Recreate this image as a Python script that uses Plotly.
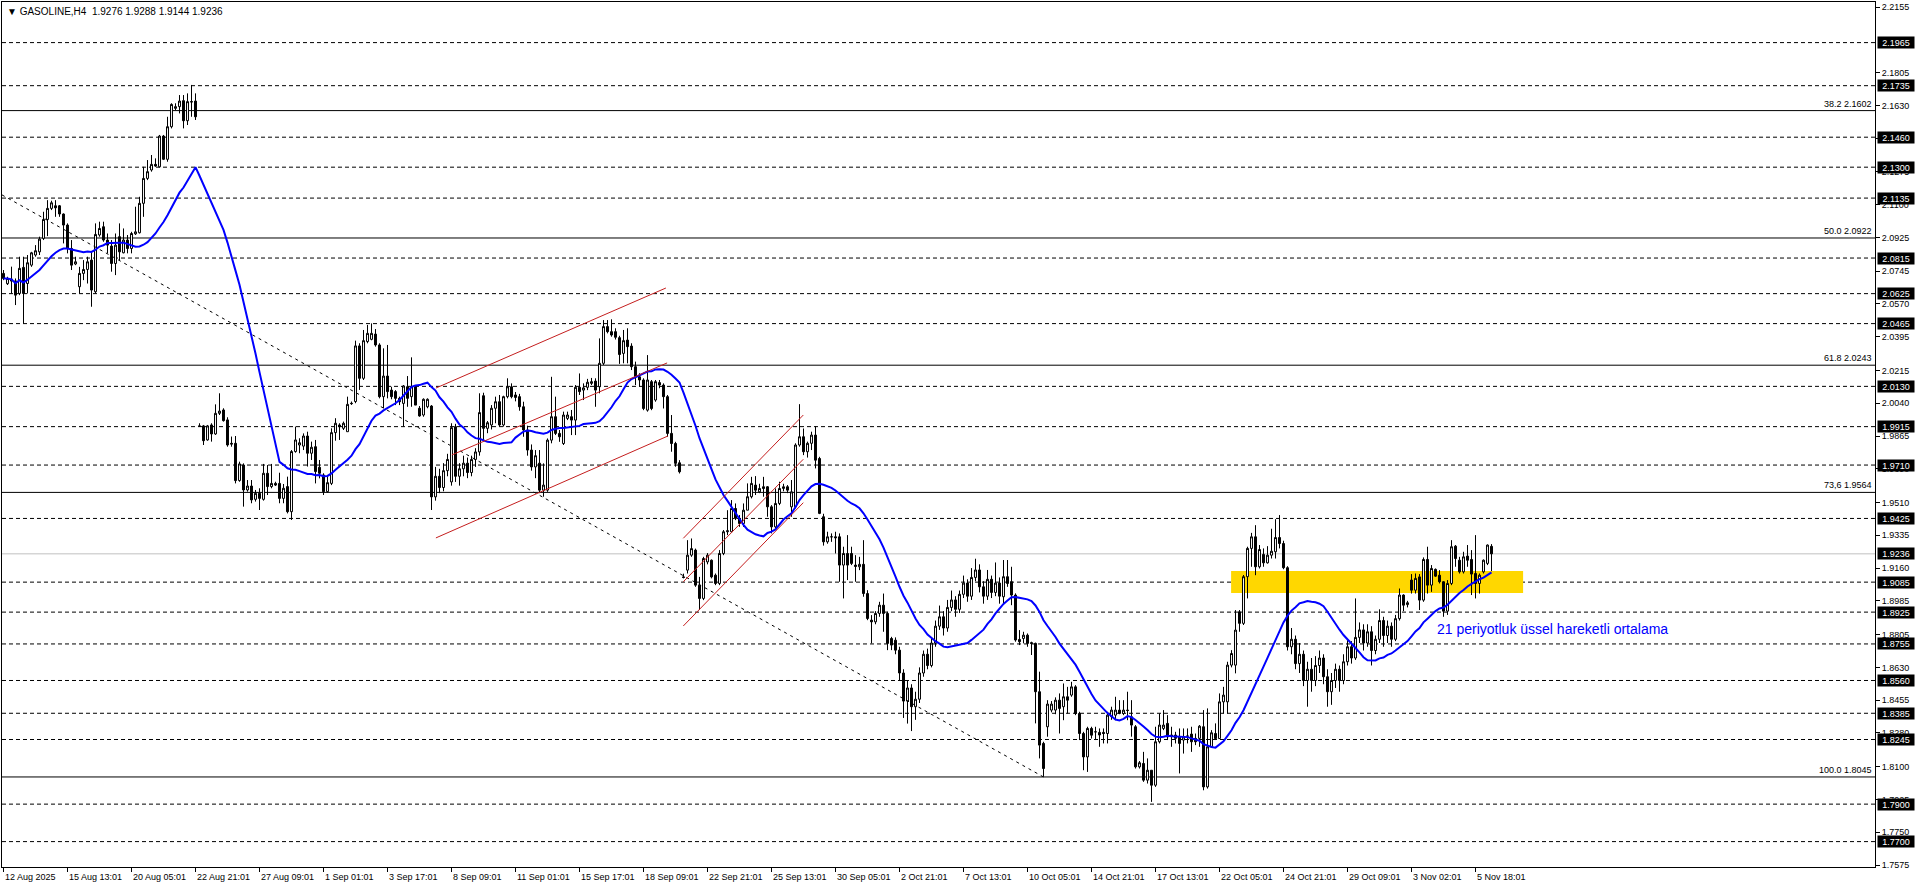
import plotly.graph_objects as go
import pandas as pd

# ---------------- data (H4 candles) ----------------
opens = [
 2.0733, 2.0678, 2.0702, 2.0693, 2.0626, 2.0765, 2.0679, 2.0777, 2.0831, 2.0848,
 2.0920, 2.1021, 2.1080, 2.1094, 2.1094, 2.1050, 2.0991, 2.0866, 2.0783, 2.0662,
 2.0733, 2.0754, 2.0804, 2.0635, 2.0938, 2.0982, 2.0911, 2.0879, 2.0786, 2.0929,
 2.0843, 2.0911, 2.0866, 2.0944, 2.0950, 2.1107, 2.1240, 2.1285, 2.1315, 2.1302,
 2.1466, 2.1342, 2.1516, 2.1614, 2.1623, 2.1655, 2.1548, 2.1650, 2.1653, 1.9919,
 1.9919, 1.9844, 1.9924, 1.9876, 1.9986, 2.0004, 1.9951, 1.9826, 1.9826, 1.9627,
 1.9710, 1.9577, 1.9598, 1.9527, 1.9559, 1.9527, 1.9666, 1.9595, 1.9612, 1.9612,
 1.9532, 1.9595, 1.9461, 1.9782, 1.9817, 1.9811, 1.9865, 1.9773, 1.9808, 1.9698,
 1.9657, 1.9568, 1.9612, 1.9883, 1.9924, 1.9906, 1.9888, 2.0040, 2.0049, 2.0346,
 2.0173, 2.0369, 2.0381, 2.0409, 2.0351, 2.0075, 2.0185, 2.0110, 2.0102, 2.0066,
 2.0039, 2.0128, 2.0075, 2.0128, 2.0013, 1.9977, 2.0021, 2.0025, 1.9540, 1.9650,
 1.9590, 1.9680, 1.9620, 1.9915, 1.9650, 1.9690, 1.9720, 1.9670, 1.9740, 1.9780,
 2.0080, 1.9906, 1.9924, 2.0013, 2.0048, 1.9924, 2.0075, 2.0128, 2.0084, 2.0075,
 2.0021, 1.9897, 1.9790, 1.9700, 1.9720, 1.9576, 1.9576, 1.9843, 1.9968, 1.9879,
 1.9825, 1.9959, 1.9968, 1.9950, 2.0125, 2.0110, 2.0125, 2.0146, 2.0158, 2.0128,
 2.0253, 2.0449, 2.0422, 2.0422, 2.0390, 2.0306, 2.0377, 2.0345, 2.0235, 2.0181,
 2.0164, 2.0003, 2.0155, 2.0057, 2.0150, 2.0137, 2.0075, 1.9879, 1.9825, 1.9722,
 1.9113, 1.9149, 1.9229, 1.9256, 1.9069, 1.8998, 1.9193, 1.9202, 1.9122, 1.9078,
 1.9238, 1.9354, 1.9354, 1.9478, 1.9425, 1.9398, 1.9469, 1.9541, 1.9603, 1.9567,
 1.9594, 1.9594, 1.9487, 1.9380, 1.9505, 1.9585, 1.9594, 1.9487, 1.9487, 1.9817,
 1.9861, 1.9781, 1.9826, 1.9870, 1.9745, 1.9434, 1.9300, 1.9327, 1.9327, 1.9327,
 1.9176, 1.9238, 1.9238, 1.9176, 1.9167, 1.9180, 1.9024, 1.8882, 1.8873, 1.8918,
 1.8962, 1.8918, 1.8784, 1.8775, 1.8722, 1.8600, 1.8450, 1.8520, 1.8420, 1.8460,
 1.8600, 1.8700, 1.8640, 1.8760, 1.8850, 1.8900, 1.8840, 1.8950, 1.8990, 1.8940,
 1.9020, 1.9080, 1.9010, 1.9110, 1.9150, 1.9060, 1.9010, 1.9100, 1.9030, 1.9080,
 1.9007, 1.9114, 1.9087, 1.9016, 1.8779, 1.8784, 1.8802, 1.8762, 1.8758, 1.8500,
 1.8224, 1.8313, 1.8402, 1.8402, 1.8455, 1.8420, 1.8473, 1.8482, 1.8526, 1.8384,
 1.8277, 1.8152, 1.8304, 1.8286, 1.8283, 1.8283, 1.8277, 1.8367, 1.8375, 1.8402,
 1.8384, 1.8402, 1.8366, 1.8313, 1.8099, 1.8117, 1.8028, 1.8081, 1.8001, 1.8233,
 1.8304, 1.8331, 1.8269, 1.8269, 1.8259, 1.8242, 1.8263, 1.8274, 1.8251, 1.8251,
 1.8313, 1.7992, 1.8206, 1.8277, 1.8250, 1.8446, 1.8446, 1.8642, 1.8642, 1.8927,
 1.8865, 1.9114, 1.9265, 1.9327, 1.9167, 1.9233, 1.9188, 1.9229, 1.9247, 1.9323,
 1.9291, 1.9162, 1.8740, 1.8780, 1.8650, 1.8700, 1.8560, 1.8620, 1.8560, 1.8640,
 1.8680, 1.8580, 1.8500, 1.8560, 1.8620, 1.8560, 1.8660, 1.8740, 1.8680, 1.8790,
 1.8830, 1.8760, 1.8820, 1.8720, 1.8780, 1.8880, 1.8800, 1.8850, 1.8780, 1.8890,
 1.9016, 1.8965, 1.9096, 1.9042, 1.9113, 1.8989, 1.9206, 1.9069, 1.9153, 1.9122,
 1.9087, 1.8930, 1.9078, 1.9277, 1.9202, 1.9140, 1.9224, 1.9206, 1.9131, 1.9078,
 1.9140, 1.9185, 1.9276,
]
highs = [
 2.0751, 2.0715, 2.0769, 2.0706, 2.0822, 2.0822, 2.0831, 2.0848, 2.0884, 2.0929,
 2.1062, 2.1124, 2.1121, 2.1124, 2.1098, 2.1053, 2.1000, 2.0911, 2.0822, 2.0768,
 2.0804, 2.0822, 2.0848, 2.1000, 2.1009, 2.1009, 2.0946, 2.0911, 2.0946, 2.1000,
 2.0973, 2.0938, 2.0955, 2.1089, 2.1142, 2.1302, 2.1338, 2.1365, 2.1347, 2.1472,
 2.1472, 2.1569, 2.1641, 2.1641, 2.1685, 2.1685, 2.1694, 2.1739, 2.1694, 1.9933,
 1.9924, 1.9924, 1.9933, 2.0034, 2.0093, 2.0013, 1.9965, 1.9862, 1.9865, 1.9728,
 1.9719, 1.9630, 1.9630, 1.9577, 1.9586, 1.9716, 1.9710, 1.9716, 1.9621, 1.9669,
 1.9609, 1.9648, 1.9790, 1.9915, 1.9853, 1.9879, 1.9888, 1.9835, 1.9844, 1.9737,
 1.9666, 1.9648, 1.9906, 1.9960, 1.9933, 1.9942, 2.0075, 2.0049, 2.0374, 2.0360,
 2.0431, 2.0458, 2.0466, 2.0436, 2.0360, 2.0333, 2.0351, 2.0128, 2.0110, 2.0075,
 2.0137, 2.0185, 2.0285, 2.0137, 2.0025, 2.0066, 2.0066, 2.0030, 1.9700, 1.9690,
 1.9720, 1.9770, 1.9933, 1.9930, 1.9720, 1.9760, 1.9750, 1.9760, 1.9800, 2.0093,
 2.0096, 1.9945, 2.0030, 2.0075, 2.0084, 2.0080, 2.0173, 2.0146, 2.0100, 2.0090,
 2.0048, 1.9920, 1.9820, 1.9790, 1.9790, 1.9719, 1.9852, 2.0181, 2.0075, 1.9897,
 1.9995, 1.9995, 2.0004, 2.0137, 2.0199, 2.0146, 2.0170, 2.0175, 2.0173, 2.0386,
 2.0484, 2.0484, 2.0488, 2.0440, 2.0400, 2.0431, 2.0440, 2.0360, 2.0262, 2.0200,
 2.0173, 2.0297, 2.0164, 2.0164, 2.0164, 2.0146, 2.0084, 1.9977, 1.9834, 1.9736,
 1.9130, 1.9309, 1.9318, 1.9264, 1.9113, 1.9220, 1.9240, 1.9206, 1.9131, 1.9256,
 1.9363, 1.9469, 1.9523, 1.9505, 1.9443, 1.9505, 1.9612, 1.9647, 1.9651, 1.9610,
 1.9647, 1.9598, 1.9496, 1.9585, 1.9621, 1.9610, 1.9603, 1.9630, 1.9826, 2.0035,
 1.9905, 1.9835, 1.9888, 1.9918, 1.9754, 1.9450, 1.9354, 1.9345, 1.9354, 1.9345,
 1.9274, 1.9336, 1.9274, 1.9229, 1.9220, 1.9309, 1.9042, 1.8909, 1.8930, 1.8980,
 1.9024, 1.8927, 1.8793, 1.8790, 1.8740, 1.8620, 1.8560, 1.8540, 1.8500, 1.8630,
 1.8720, 1.8730, 1.8790, 1.8880, 1.8960, 1.8930, 1.8990, 1.9040, 1.9010, 1.9040,
 1.9120, 1.9100, 1.9160, 1.9210, 1.9180, 1.9090, 1.9150, 1.9120, 1.9190, 1.9110,
 1.9203, 1.9203, 1.9167, 1.9025, 1.8829, 1.8820, 1.8811, 1.8767, 1.8762, 1.8607,
 1.8233, 1.8455, 1.8450, 1.8470, 1.8491, 1.8544, 1.8526, 1.8553, 1.8535, 1.8393,
 1.8286, 1.8313, 1.8313, 1.8313, 1.8304, 1.8304, 1.8393, 1.8420, 1.8473, 1.8455,
 1.8455, 1.8500, 1.8455, 1.8322, 1.8130, 1.8179, 1.8144, 1.8081, 1.8313, 1.8384,
 1.8402, 1.8375, 1.8313, 1.8286, 1.8304, 1.8304, 1.8304, 1.8313, 1.8277, 1.8322,
 1.8402, 1.8411, 1.8295, 1.8331, 1.8491, 1.8526, 1.8660, 1.8722, 1.8936, 1.8936,
 1.9123, 1.9274, 1.9348, 1.9389, 1.9283, 1.9265, 1.9277, 1.9370, 1.9421, 1.9443,
 1.9306, 1.9170, 1.8840, 1.8800, 1.8760, 1.8720, 1.8660, 1.8680, 1.8690, 1.8720,
 1.8700, 1.8620, 1.8600, 1.8650, 1.8640, 1.8700, 1.8780, 1.8770, 1.8998, 1.8870,
 1.8860, 1.8860, 1.8850, 1.8800, 1.8940, 1.8900, 1.8880, 1.8870, 1.8910, 1.9051,
 1.9020, 1.8985, 1.9128, 1.9131, 1.9128, 1.9217, 1.9274, 1.9176, 1.9158, 1.9149,
 1.9090, 1.9096, 1.9309, 1.9283, 1.9220, 1.9247, 1.9283, 1.9256, 1.9336, 1.9131,
 1.9206, 1.9286, 1.9288,
]
lows = [
 2.0697, 2.0671, 2.0626, 2.0564, 2.0617, 2.0466, 2.0626, 2.0768, 2.0822, 2.0831,
 2.0911, 2.0932, 2.1071, 2.1035, 2.1035, 2.0893, 2.0840, 2.0751, 2.0777, 2.0626,
 2.0697, 2.0679, 2.0555, 2.0626, 2.0929, 2.0902, 2.0840, 2.0742, 2.0724, 2.0804,
 2.0840, 2.0840, 2.0840, 2.0938, 2.0946, 2.1035, 2.1231, 2.1276, 2.1302, 2.1299,
 2.1338, 2.1329, 2.1507, 2.1605, 2.1587, 2.1507, 2.1525, 2.1569, 2.1552, 1.9915,
 1.9817, 1.9840, 1.9835, 1.9871, 1.9977, 1.9942, 1.9808, 1.9808, 1.9612, 1.9621,
 1.9488, 1.9568, 1.9506, 1.9515, 1.9470, 1.9520, 1.9550, 1.9586, 1.9598, 1.9506,
 1.9506, 1.9452, 1.9417, 1.9776, 1.9773, 1.9790, 1.9702, 1.9737, 1.9612, 1.9639,
 1.9550, 1.9563, 1.9603, 1.9840, 1.9844, 1.9897, 1.9888, 2.0031, 2.0040, 2.0111,
 2.0164, 2.0360, 2.0376, 2.0342, 2.0066, 2.0013, 2.0066, 2.0061, 2.0030, 2.0030,
 1.9915, 2.0021, 2.0021, 2.0030, 1.9968, 1.9968, 2.0013, 1.9470, 1.9520, 1.9560,
 1.9570, 1.9650, 1.9600, 1.9620, 1.9600, 1.9650, 1.9640, 1.9650, 1.9700, 1.9760,
 1.9843, 1.9880, 1.9900, 1.9933, 1.9915, 1.9915, 2.0066, 2.0066, 2.0050, 2.0000,
 1.9861, 1.9760, 1.9680, 1.9640, 1.9560, 1.9541, 1.9567, 1.9826, 1.9870, 1.9834,
 1.9817, 1.9950, 1.9870, 1.9870, 2.0084, 2.0057, 2.0110, 2.0137, 2.0021, 2.0093,
 2.0244, 2.0413, 2.0395, 2.0380, 2.0250, 2.0253, 2.0253, 2.0217, 2.0137, 2.0128,
 2.0003, 1.9995, 2.0003, 2.0048, 2.0120, 2.0012, 1.9861, 1.9781, 1.9701, 1.9665,
 1.9105, 1.9131, 1.9220, 1.9060, 1.8936, 1.8989, 1.9180, 1.9105, 1.9069, 1.9069,
 1.9229, 1.9336, 1.9354, 1.9416, 1.9380, 1.9380, 1.9469, 1.9532, 1.9550, 1.9560,
 1.9541, 1.9434, 1.9345, 1.9372, 1.9496, 1.9570, 1.9560, 1.9434, 1.9478, 1.9808,
 1.9763, 1.9750, 1.9790, 1.9692, 1.9448, 1.9280, 1.9290, 1.9300, 1.9238, 1.9087,
 1.8998, 1.9096, 1.9176, 1.9087, 1.9149, 1.9007, 1.8882, 1.8758, 1.8860, 1.8900,
 1.8820, 1.8722, 1.8722, 1.8700, 1.8560, 1.8360, 1.8330, 1.8290, 1.8350, 1.8440,
 1.8580, 1.8620, 1.8630, 1.8740, 1.8830, 1.8800, 1.8820, 1.8930, 1.8900, 1.8920,
 1.9000, 1.8980, 1.8990, 1.9090, 1.9030, 1.8970, 1.8990, 1.9000, 1.9010, 1.8970,
 1.8971, 1.9060, 1.8962, 1.8767, 1.8749, 1.8758, 1.8740, 1.8696, 1.8331, 1.8144,
 1.8046, 1.8260, 1.8390, 1.8380, 1.8277, 1.8348, 1.8384, 1.8473, 1.8375, 1.8242,
 1.8081, 1.8072, 1.8250, 1.8242, 1.8206, 1.8224, 1.8224, 1.8350, 1.8348, 1.8380,
 1.8375, 1.8348, 1.8260, 1.8090, 1.8090, 1.8019, 1.8010, 1.7912, 1.7992, 1.8224,
 1.8295, 1.8242, 1.8206, 1.8224, 1.8064, 1.8170, 1.8224, 1.8179, 1.8215, 1.8206,
 1.7974, 1.7983, 1.8206, 1.8242, 1.8250, 1.8384, 1.8384, 1.8630, 1.8598, 1.8820,
 1.8856, 1.8998, 1.9167, 1.9122, 1.9158, 1.9167, 1.9184, 1.9211, 1.9211, 1.9265,
 1.9154, 1.8720, 1.8700, 1.8620, 1.8600, 1.8530, 1.8420, 1.8500, 1.8530, 1.8600,
 1.8540, 1.8420, 1.8430, 1.8520, 1.8500, 1.8540, 1.8640, 1.8650, 1.8670, 1.8760,
 1.8720, 1.8740, 1.8640, 1.8700, 1.8760, 1.8740, 1.8760, 1.8740, 1.8770, 1.8880,
 1.8930, 1.8950, 1.9024, 1.9024, 1.8936, 1.8980, 1.9024, 1.9033, 1.9113, 1.9078,
 1.8900, 1.8910, 1.9069, 1.9167, 1.9131, 1.9131, 1.9167, 1.9016, 1.8998, 1.9024,
 1.9131, 1.9176, 1.9144,
]
closes = [
 2.0706, 2.0706, 2.0692, 2.0617, 2.0760, 2.0626, 2.0790, 2.0843, 2.0854, 2.0916,
 2.1021, 2.1080, 2.1110, 2.1083, 2.1050, 2.0991, 2.0866, 2.0777, 2.0795, 2.0733,
 2.0754, 2.0795, 2.0644, 2.0941, 2.0973, 2.0911, 2.0884, 2.0786, 2.0884, 2.0848,
 2.0911, 2.0866, 2.0946, 2.0955, 2.1107, 2.1240, 2.1276, 2.1315, 2.1306, 2.1466,
 2.1342, 2.1516, 2.1635, 2.1623, 2.1653, 2.1548, 2.1650, 2.1648, 2.1569, 1.9917,
 1.9840, 1.9919, 1.9876, 1.9986, 1.9998, 1.9947, 1.9817, 1.9822, 1.9627, 1.9716,
 1.9577, 1.9598, 1.9524, 1.9559, 1.9532, 1.9666, 1.9595, 1.9612, 1.9603, 1.9532,
 1.9586, 1.9461, 1.9782, 1.9844, 1.9829, 1.9865, 1.9773, 1.9805, 1.9675, 1.9666,
 1.9568, 1.9616, 1.9883, 1.9933, 1.9915, 1.9933, 2.0034, 2.0038, 2.0346, 2.0173,
 2.0374, 2.0413, 2.0413, 2.0351, 2.0075, 2.0185, 2.0102, 2.0075, 2.0066, 2.0048,
 2.0132, 2.0066, 2.0128, 2.0030, 1.9972, 2.0061, 2.0061, 1.9540, 1.9650, 1.9590,
 1.9680, 1.9740, 1.9910, 1.9650, 1.9690, 1.9720, 1.9670, 1.9740, 1.9780, 1.9990,
 1.9906, 1.9936, 2.0013, 2.0048, 1.9924, 2.0075, 2.0128, 2.0075, 2.0071, 2.0021,
 1.9897, 1.9790, 1.9700, 1.9760, 1.9576, 1.9603, 1.9843, 1.9968, 1.9879, 1.9861,
 1.9977, 1.9977, 1.9950, 2.0125, 2.0102, 2.0122, 2.0152, 2.0155, 2.0110, 2.0253,
 2.0449, 2.0422, 2.0404, 2.0392, 2.0300, 2.0374, 2.0342, 2.0235, 2.0181, 2.0164,
 2.0012, 2.0164, 2.0012, 2.0155, 2.0137, 2.0075, 1.9879, 1.9825, 1.9719, 1.9674,
 1.9110, 1.9229, 1.9264, 1.9069, 1.8998, 1.9211, 1.9229, 1.9113, 1.9078, 1.9238,
 1.9354, 1.9359, 1.9478, 1.9425, 1.9398, 1.9469, 1.9541, 1.9612, 1.9576, 1.9585,
 1.9585, 1.9487, 1.9380, 1.9505, 1.9585, 1.9594, 1.9576, 1.9567, 1.9817, 1.9861,
 1.9781, 1.9826, 1.9870, 1.9736, 1.9452, 1.9300, 1.9327, 1.9327, 1.9322, 1.9176,
 1.9238, 1.9176, 1.9185, 1.9169, 1.9180, 1.9024, 1.8891, 1.8873, 1.8918, 1.8962,
 1.8918, 1.8758, 1.8749, 1.8722, 1.8600, 1.8450, 1.8520, 1.8420, 1.8460, 1.8600,
 1.8700, 1.8640, 1.8760, 1.8850, 1.8900, 1.8840, 1.8950, 1.8990, 1.8940, 1.9020,
 1.9080, 1.9010, 1.9110, 1.9150, 1.9060, 1.9010, 1.9100, 1.9030, 1.9080, 1.9010,
 1.9114, 1.9078, 1.9016, 1.8776, 1.8767, 1.8802, 1.8758, 1.8758, 1.8500, 1.8215,
 1.8090, 1.8434, 1.8434, 1.8455, 1.8411, 1.8473, 1.8455, 1.8526, 1.8384, 1.8277,
 1.8152, 1.8304, 1.8268, 1.8286, 1.8269, 1.8277, 1.8375, 1.8402, 1.8402, 1.8384,
 1.8402, 1.8400, 1.8322, 1.8099, 1.8121, 1.8028, 1.8081, 1.8001, 1.8233, 1.8322,
 1.8322, 1.8259, 1.8261, 1.8251, 1.8224, 1.8259, 1.8263, 1.8233, 1.8233, 1.8316,
 1.7992, 1.8206, 1.8281, 1.8250, 1.8446, 1.8482, 1.8642, 1.8704, 1.8829, 1.8865,
 1.9114, 1.9265, 1.9327, 1.9167, 1.9259, 1.9188, 1.9229, 1.9250, 1.9323, 1.9291,
 1.9162, 1.8740, 1.8780, 1.8650, 1.8700, 1.8560, 1.8620, 1.8560, 1.8640, 1.8680,
 1.8580, 1.8500, 1.8560, 1.8620, 1.8560, 1.8660, 1.8740, 1.8680, 1.8790, 1.8830,
 1.8760, 1.8820, 1.8720, 1.8780, 1.8880, 1.8800, 1.8850, 1.8780, 1.8890, 1.9016,
 1.8962, 1.8975, 1.9042, 1.9105, 1.8989, 1.9206, 1.9069, 1.9158, 1.9117, 1.9087,
 1.8930, 1.9078, 1.9274, 1.9211, 1.9140, 1.9220, 1.9202, 1.9128, 1.9078, 1.9122,
 1.9202, 1.9283, 1.9236,
]
assert len(opens) == len(highs) == len(lows) == len(closes), (len(opens), len(highs), len(lows), len(closes))

ma_period = 21

date_labels = ["12 Aug 2025", "15 Aug 13:01", "20 Aug 05:01", "22 Aug 21:01", "27 Aug 09:01",
               "1 Sep 01:01", "3 Sep 17:01", "8 Sep 09:01", "11 Sep 01:01", "15 Sep 17:01",
               "18 Sep 09:01", "22 Sep 21:01", "25 Sep 13:01", "30 Sep 05:01", "2 Oct 21:01",
               "7 Oct 13:01", "10 Oct 05:01", "14 Oct 21:01", "17 Oct 13:01", "22 Oct 05:01",
               "24 Oct 21:01", "29 Oct 09:01", "3 Nov 02:01", "5 Nov 18:01"]
date_bars = [16 * k for k in range(len(date_labels))]

price_ticks = [2.2155, 2.1805, 2.1630, 2.1455, 2.1275, 2.1100, 2.0925, 2.0745, 2.0570,
               2.0395, 2.0215, 2.0040, 1.9865, 1.9690, 1.9510, 1.9335, 1.9160, 1.8985, 1.8805,
               1.8630, 1.8455, 1.8280, 1.8100, 1.7925, 1.7750, 1.7575]

dashed_levels = [2.1965, 2.1735, 2.1460, 2.1300, 2.1135, 2.0815, 2.0625, 2.0465, 2.0130, 1.9915,
                 1.9710, 1.9425, 1.9085, 1.8925, 1.8755, 1.8560, 1.8385, 1.8245, 1.7900, 1.7700]
fib_levels = [2.1602, 2.0922, 2.0243, 1.9564, 1.8045]
fib_names = ["38.2 2.1602", "50.0 2.0922", "61.8 2.0243", "73,6 1.9564", "100.0 1.8045"]
bid_price = 1.9236
title_text = "▼ GASOLINE,H4  1.9276 1.9288 1.9144 1.9236"
note_text = "21 periyotluk üssel hareketli ortalama"

# drawn objects: (bar index, price) anchor points
fib_trend = [(-0.375, 2.1152), (260.0, 1.8045)]
channel_a = [
    [(108.1, 2.0121), (165.6, 2.0655)],
    [(112.1, 1.9764), (165.9, 2.0255)],
    [(108.1, 1.9321), (166.1, 1.9865)],
]
channel_b = [
    [(169.95, 1.9319), (199.95, 1.9977)],
    [(169.95, 1.9087), (199.95, 1.9741)],
    [(169.95, 1.8851), (199.95, 1.9509)],
]
zone_bars = (306.9, 379.9)
zone_prices = (1.9027, 1.9144)
note_anchor = (358.1, 1.8835)

# ---------------- figure ----------------
bars = list(range(len(closes)))
ma = pd.Series(closes).rolling(ma_period, min_periods=1).mean()

FONT = "Liberation Sans, Arial, sans-serif"

fig = go.Figure()
fig.add_trace(go.Candlestick(
    x=bars, open=opens, high=highs, low=lows, close=closes,
    increasing=dict(line=dict(color="black", width=1), fillcolor="white"),
    decreasing=dict(line=dict(color="black", width=1), fillcolor="black"),
    whiskerwidth=0, hoverinfo="skip", showlegend=False,
))
fig.add_trace(go.Scatter(
    x=bars, y=ma, mode="lines", line=dict(color="#0000FF", width=2),
    hoverinfo="skip", showlegend=False,
))

shapes = []
shapes.append(dict(type="rect", xref="x", yref="y", x0=zone_bars[0], x1=zone_bars[1],
                   y0=zone_prices[0], y1=zone_prices[1], fillcolor="#FFD700",
                   line=dict(width=0), layer="below"))
for lv in dashed_levels:
    shapes.append(dict(type="line", xref="paper", yref="y", x0=0, x1=1, y0=lv, y1=lv,
                       line=dict(color="black", width=1, dash="4px,3px"), layer="below"))
for lv in fib_levels:
    shapes.append(dict(type="line", xref="paper", yref="y", x0=0, x1=1, y0=lv, y1=lv,
                       line=dict(color="black", width=1), layer="below"))
shapes.append(dict(type="line", xref="paper", yref="y", x0=0, x1=1, y0=bid_price, y1=bid_price,
                   line=dict(color="#C0C0C0", width=1), layer="below"))
shapes.append(dict(type="line", xref="x", yref="y", x0=fib_trend[0][0], y0=fib_trend[0][1],
                   x1=fib_trend[1][0], y1=fib_trend[1][1],
                   line=dict(color="black", width=1, dash="3px,4px")))
for seg in channel_a + channel_b:
    shapes.append(dict(type="line", xref="x", yref="y", x0=seg[0][0], y0=seg[0][1],
                       x1=seg[1][0], y1=seg[1][1], line=dict(color="#C41E1E", width=1)))

ann = []
ann.append(dict(xref="paper", yref="paper", x=0, y=1, xanchor="left", yanchor="middle",
                xshift=4, yshift=-9, text=title_text, showarrow=False, borderpad=0,
                font=dict(family=FONT, size=10, color="black")))
for lv, name in zip(fib_levels, fib_names):
    ann.append(dict(xref="paper", yref="y", x=1, y=lv, xanchor="right", yanchor="bottom",
                    xshift=-2, yshift=1, text=name, showarrow=False, borderpad=0,
                    font=dict(family=FONT, size=9, color="black")))
for lv in dashed_levels + [bid_price]:
    ann.append(dict(xref="paper", yref="y", x=1, y=lv, xanchor="left", yanchor="middle",
                    xshift=2, text=f"{lv:.4f}", showarrow=False, bgcolor="black",
                    width=34, height=9, borderpad=1, align="center",
                    font=dict(family=FONT, size=9, color="white")))
for b, lab in zip(date_bars, date_labels):
    ann.append(dict(xref="x", yref="paper", x=b, y=0, xanchor="left", yanchor="top",
                    xshift=0, yshift=-4, text=lab, showarrow=False, borderpad=0,
                    font=dict(family=FONT, size=9, color="black")))
ann.append(dict(xref="x", yref="y", x=note_anchor[0], y=note_anchor[1], xanchor="left",
                yanchor="middle", text=note_text, showarrow=False, borderpad=0,
                font=dict(family=FONT, size=14, color="#0000FF")))

fig.update_layout(
    width=1916, height=888,
    margin=dict(l=2, r=41, t=2, b=21, autoexpand=False),
    paper_bgcolor="white", plot_bgcolor="white",
    shapes=shapes, annotations=ann,
    showlegend=False, hovermode=False,
    xaxis=dict(range=[-0.375, 467.875], tickvals=date_bars, ticks="outside", ticklen=4,
               tickcolor="black", showticklabels=False, showgrid=False, zeroline=False,
               showline=True, linecolor="black", linewidth=1, mirror=True,
               rangeslider=dict(visible=False), fixedrange=True),
    yaxis=dict(range=[1.75644, 2.21817], side="right", tickvals=price_ticks,
               ticktext=[f"{v:.4f}" for v in price_ticks], ticks="outside", ticklen=4,
               tickcolor="black", showgrid=False, zeroline=False, showline=True,
               linecolor="black", linewidth=1, mirror=True, fixedrange=True,
               tickfont=dict(family=FONT, size=9, color="black")),
)

page_fix = ("document.body.style.margin='0';document.body.style.padding='0';"
            "document.documentElement.style.overflow='hidden';"
            "document.body.style.overflow='hidden';")
fig.write_html("out.html", post_script=page_fix, config={"displayModeBar": False})
